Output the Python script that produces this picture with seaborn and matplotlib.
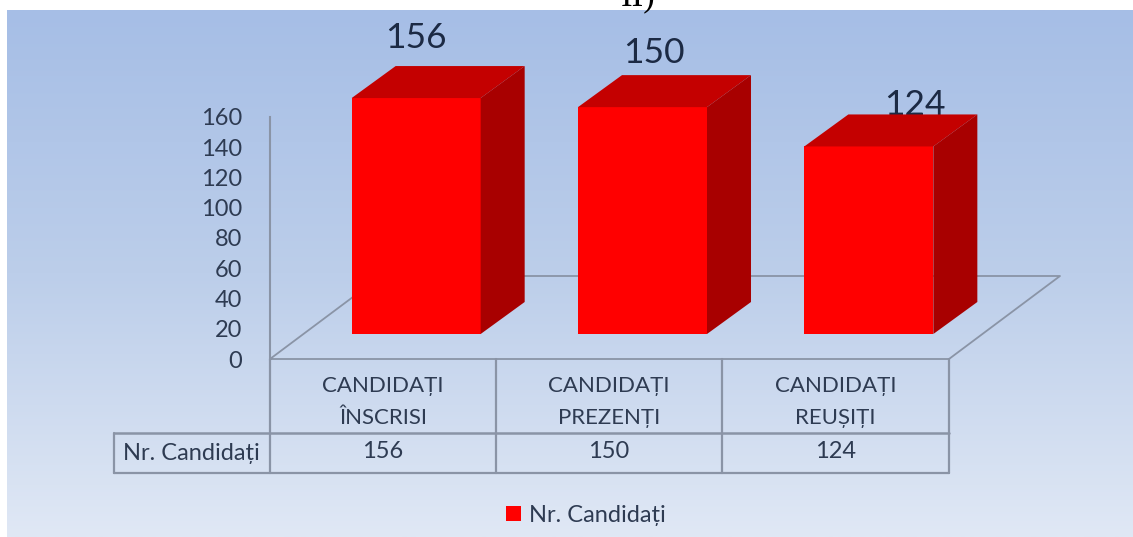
import numpy as np
import pandas as pd
import seaborn as sns
import matplotlib
matplotlib.use("Agg")
import matplotlib.pyplot as plt
from matplotlib.colors import LinearSegmentedColormap
from matplotlib.patches import Polygon, Patch

categories = ["CANDIDAȚI\nÎNSCRISI", "CANDIDAȚI\nPREZENȚI", "CANDIDAȚI\nREUȘIȚI"]
values = [156, 150, 124]
series_name = "Nr. Candidați"
y_ticks = [0, 20, 40, 60, 80, 100, 120, 140, 160]

W, H = 1133, 537
sns.set_theme(style="white")
plt.rcParams['font.family'] = ['Lato', 'Noto Sans', 'DejaVu Sans']
TXT = "#2E3B52"
LINE = "#8A94A6"

fig = plt.figure(figsize=(W / 100, H / 100), dpi=100, facecolor="white")

def rect(x0, ytop, x1, ybot):
    return [x0 / W, 1 - ybot / H, (x1 - x0) / W, (ybot - ytop) / H]

# background layer in pixel coordinates
bg = fig.add_axes([0, 0, 1, 1], zorder=0)
bg.set_xlim(0, W); bg.set_ylim(H, 0); bg.axis("off")
cmap = LinearSegmentedColormap.from_list("g", ["#A6BEE6", "#BCCEEA", "#E0E8F5"])
bg.imshow(np.linspace(0, 1, 256)[:, None], cmap=cmap, aspect="auto",
          extent=[7, W, H, 10], zorder=0)
bg.set_xlim(0, W); bg.set_ylim(H, 0)
bg.text(638, 5, "II)", family="Liberation Serif", fontsize=25, ha="center",
        va="baseline", color="black", clip_on=True)

# floor
bg.plot([270, 949, 1060, 381, 270], [359, 359, 276, 276, 359], color=LINE, lw=1.3, zorder=1)

# data table
grid_x = [270, 496, 722, 949]
for x in grid_x:
    bg.plot([x, x], [359, 473], color=LINE, lw=1.6, zorder=1)
bg.plot([114, 114], [433, 473], color=LINE, lw=1.6, zorder=1)
bg.plot([114, 949], [433, 433], color=LINE, lw=1.8, zorder=1)
bg.plot([114, 949], [473, 473], color=LINE, lw=1.6, zorder=1)
bg.text(191, 453, series_name, ha="center", va="center", color=TXT, fontsize=17)
for i, (c, v) in enumerate(zip(categories, values)):
    cx = (grid_x[i] + grid_x[i + 1]) / 2
    bg.text(cx, 402, c, ha="center", va="center", color=TXT, fontsize=16, linespacing=1.75)
    bg.text(cx, 452, str(v), ha="center", va="center", color=TXT, fontsize=17)

# data labels, behind the bars
for v, x, y in zip(values, [416, 654, 915], [48, 63, 115]):
    bg.text(x, y, str(v), ha="center", va="baseline", color="#1C2A44", fontsize=25.5, zorder=2)

# value axis
ax = fig.add_axes(rect(270, 117, 949, 359), zorder=1)
ax.patch.set_alpha(0)
ax.set_ylim(0, 160); ax.set_xlim(0, 1)
ax.set_xticks([])
ax.set_yticks(y_ticks)
ax.tick_params(axis="y", length=0, pad=20, labelsize=17, labelcolor=TXT)
for s in ["top", "right", "bottom"]:
    ax.spines[s].set_visible(False)
ax.spines["left"].set_color(LINE); ax.spines["left"].set_linewidth(1.5)

# bars: same scales, shifted onto the mid-depth plane
df = pd.DataFrame({"cat": categories, "val": values})
bax = fig.add_axes(rect(270 + 33, 117 - 25, 949 + 33, 359 - 25), zorder=2)
bax.patch.set_alpha(0)
sns.barplot(data=df, x="cat", y="val", color="#FF0000", saturation=1, width=0.57,
            ax=bax, linewidth=0, edgecolor="none", zorder=3)
bax.set_ylim(0, 160); bax.set_xlim(-0.5, 2.5)
bax.axis("off")

# 3-D faces derived from each bar
dx = 44 / (679 / 3)
dy = 32 / (242 / 160)
for p in bax.containers[0]:
    x0, w, h = p.get_x(), p.get_width(), p.get_height()
    x1 = x0 + w
    bax.add_patch(Polygon([(x0, h), (x1, h), (x1 + dx, h + dy), (x0 + dx, h + dy)],
                          fc="#C40000", ec="none", zorder=4, clip_on=False))
    bax.add_patch(Polygon([(x1, 0), (x1 + dx, dy), (x1 + dx, h + dy), (x1, h)],
                          fc="#A80000", ec="none", zorder=4, clip_on=False))
    p.set_clip_on(False)

handle = Patch(facecolor="#FF0000", edgecolor="none")
fig.legend(handles=[handle], labels=[series_name], loc="center",
           bbox_to_anchor=(586 / W, 1 - 515 / H), frameon=False, fontsize=17,
           labelcolor=TXT, handlelength=0.62, handleheight=0.62, handletextpad=0.35)

fig.savefig("out.png", dpi=100)
